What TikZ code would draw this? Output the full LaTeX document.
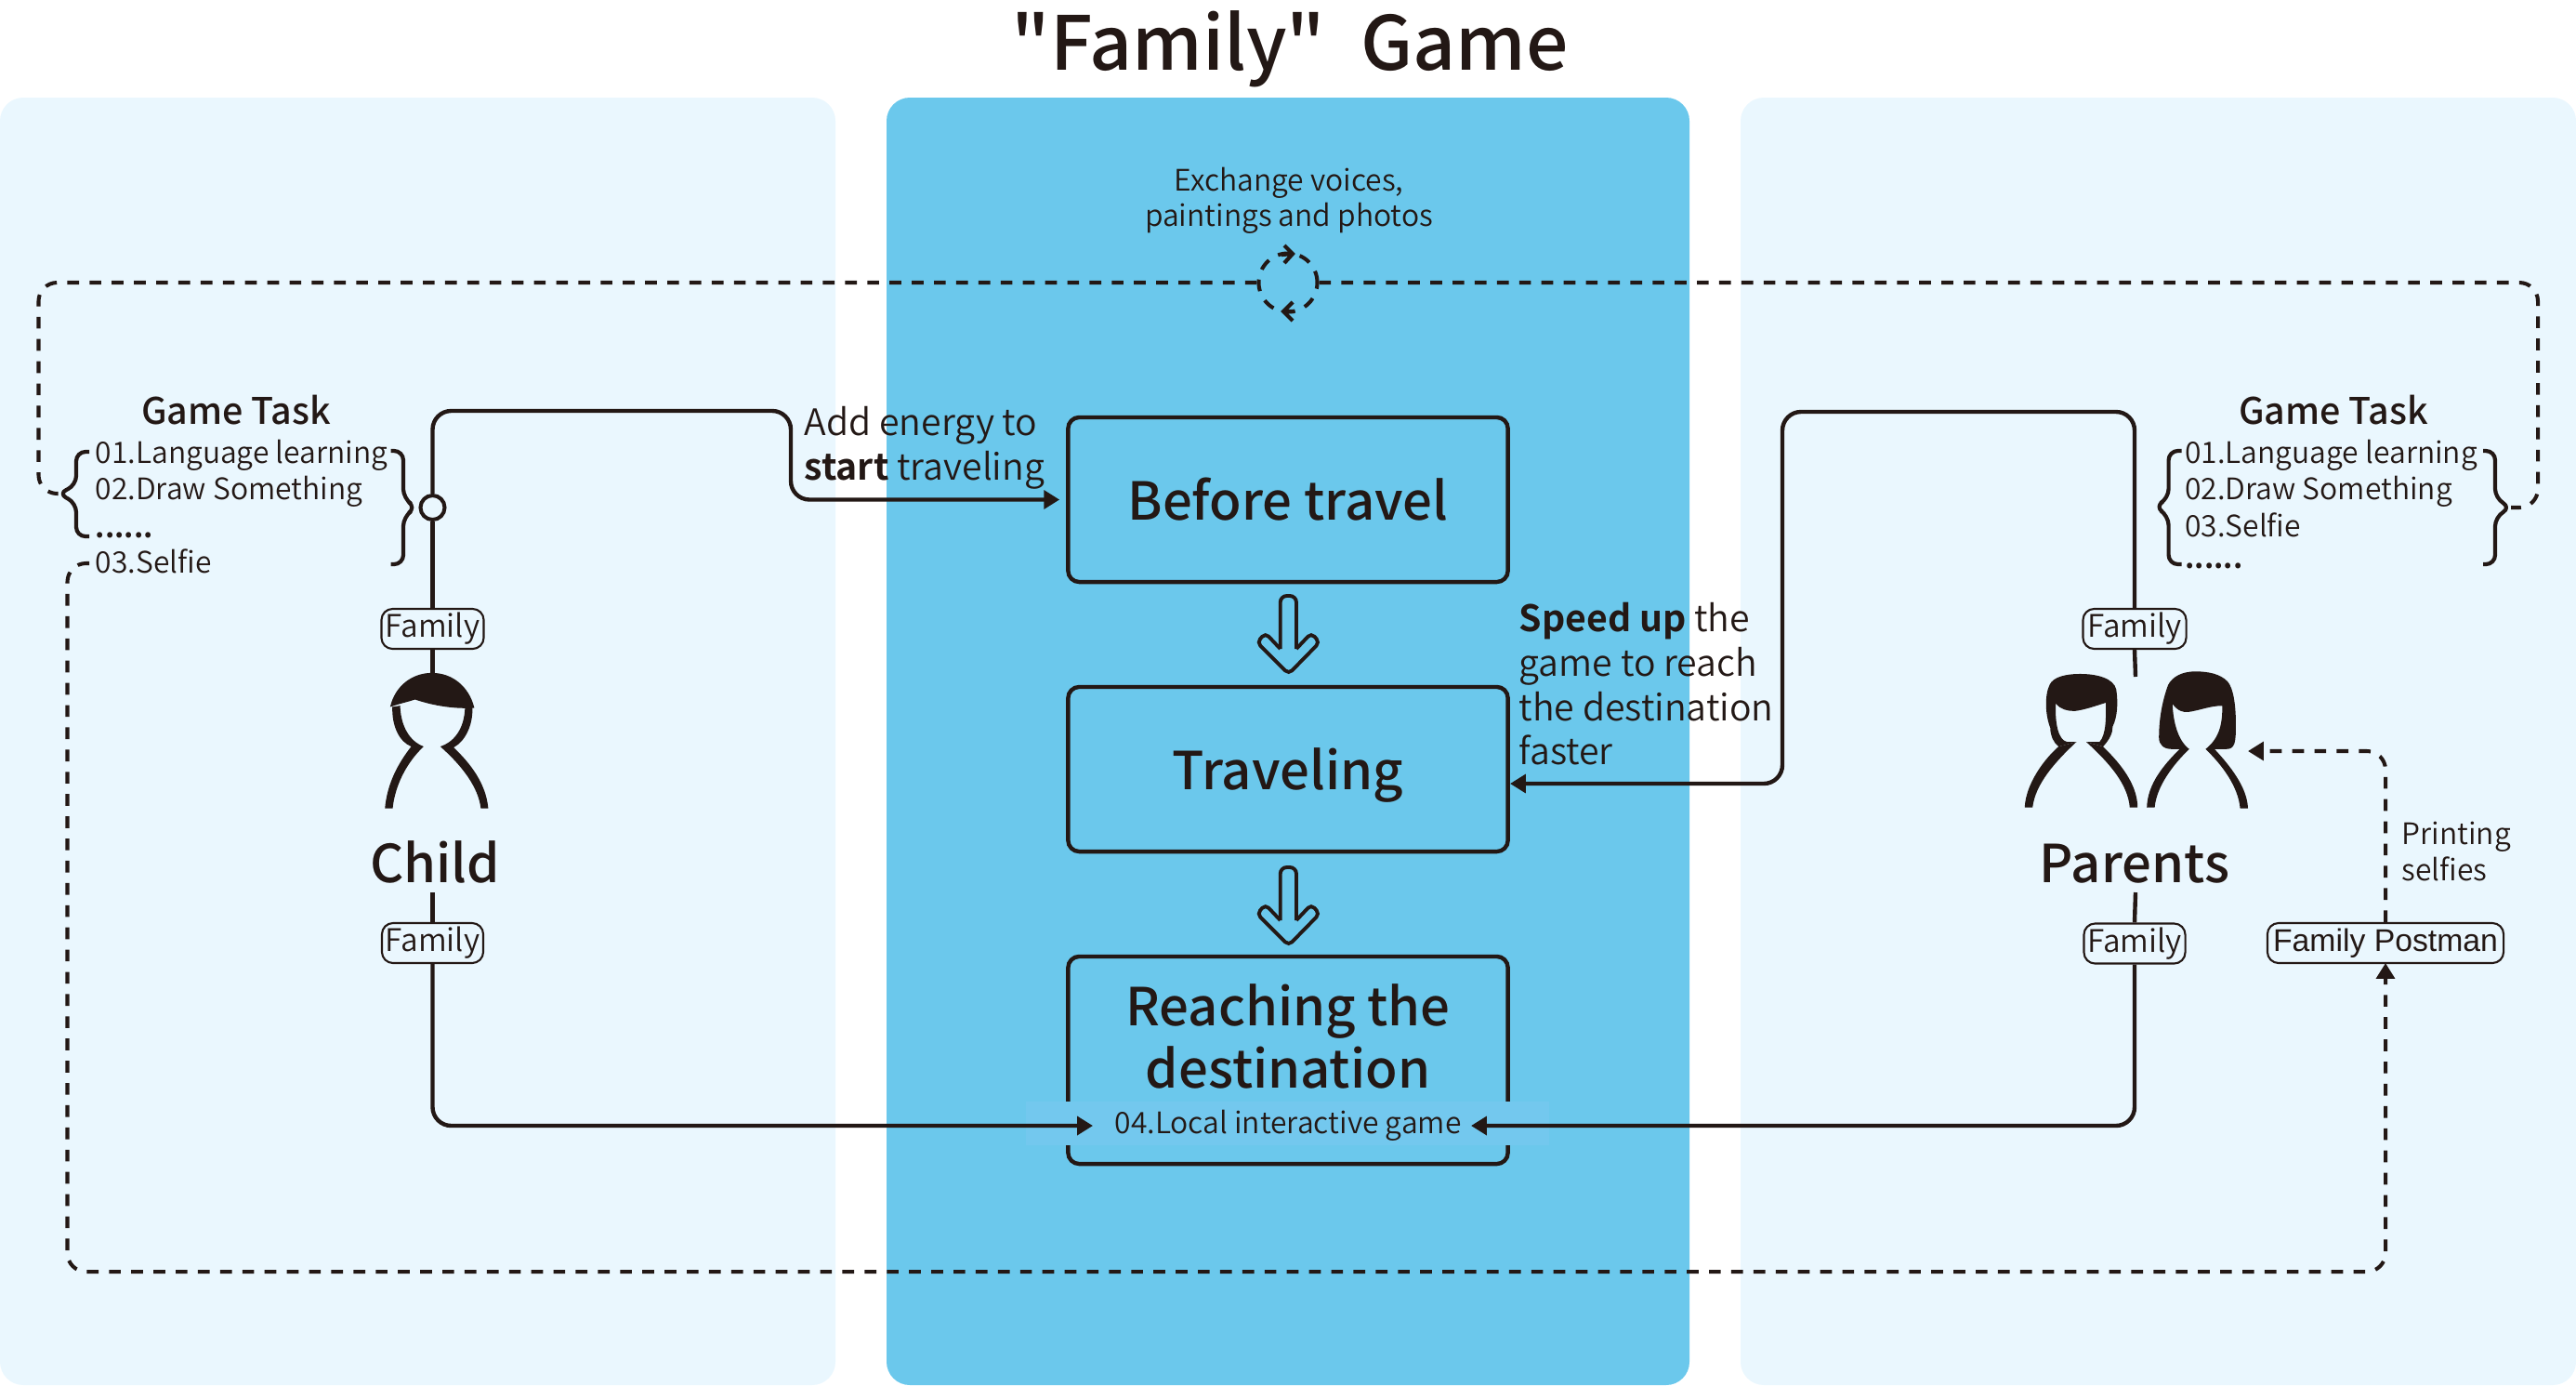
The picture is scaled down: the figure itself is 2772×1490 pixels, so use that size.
\documentclass[tikz,border=0pt]{standalone}
\usepackage{fontspec}
\setmainfont{Noto Sans CJK SC DemiLight}[BoldFont={Noto Sans CJK SC Bold}]
\newfontfamily\medfont{Noto Sans CJK SC Medium}
\newfontfamily\arialfont{Liberation Sans}
\usetikzlibrary{arrows.meta}
\definecolor{ink}{HTML}{231815}
\definecolor{pale}{HTML}{EAF7FE}
\definecolor{sky}{HTML}{6BC8EC}
\definecolor{bandc}{HTML}{73C8EE}
\tikzset{
  conn/.style={draw=ink,line width=1.25pt},
  dashc/.style={draw=ink,line width=1.15pt,dash pattern=on 3.6pt off 3.2pt},
  crn/.style={rounded corners=.2cm},
  tipA/.tip={Triangle[length=4.8pt,width=5.6pt]},
  flowbox/.style={draw=ink,line width=1.25pt,rounded corners=.12cm,minimum width=4.73cm,inner sep=0pt},
  tagbox/.style={draw=ink,line width=.6pt,fill=pale,rounded corners=.12cm,minimum height=.43cm,inner sep=0pt,text=ink,font=\fontsize{9.5}{11}\selectfont},
  txt/.style={text=ink,inner sep=0pt,anchor=base west,font=\fontsize{9.05}{11}\selectfont},
  ctxt/.style={txt,anchor=base},
  bigt/.style={text=ink,inner sep=0pt,anchor=base,font=\fontsize{16}{20}\medfont},
  headt/.style={text=ink,inner sep=0pt,anchor=base,font=\fontsize{11.2}{13}\medfont},
  sayt/.style={txt,font=\fontsize{11.15}{14}\selectfont},
  rolet/.style={text=ink,inner sep=0pt,anchor=base,font=\fontsize{16}{20}\medfont},
  brc/.style={draw=ink,line width=1.2pt,line join=round},
}
\newcommand{\hollowarrow}[1]{%
  \begin{scope}[shift={(0,#1)}]
  \draw[draw=ink,line width=1.1pt,rounded corners=.07cm] (1377.7,698) -- (1377.7,641) -- (1395,641) -- (1395,698);
  \draw[draw=ink,line width=1.1pt,rounded corners=.05cm] (1395,698) -- (1411,681) -- (1420,691) -- (1386.7,725) -- (1352.7,691) -- (1361.7,681) -- (1377.7,698);
  \end{scope}}
\begin{document}
\begin{tikzpicture}[x=.01cm,y=-.01cm]
\useasboundingbox (0,0) rectangle (2772,1490);
% panels
\fill[pale,rounded corners=.25cm] (0,105) rectangle (899,1490);
\fill[sky,rounded corners=.25cm] (954,105) rectangle (1818,1490);
\fill[pale,rounded corners=.25cm] (1873,105) rectangle (2772,1490);
% title
\node[text=ink,inner sep=0pt,anchor=base,font=\fontsize{22.8}{26}\medfont] (title) at (1388,75) {"Family"\hspace{.25em} Game};
% flow boxes
\node[flowbox,minimum height=1.77cm] (before) at (1386,537.5) {};
\node[flowbox,minimum height=1.77cm] (travel) at (1386,827.5) {};
\node[flowbox,minimum height=2.23cm] (reach) at (1386,1140.5) {};
\node[bigt] (l1) at (1386,559) {Before travel};
\node[bigt] (l2) at (1386,849) {Traveling};
\node[bigt] (l3) at (1386,1103) {Reaching the};
\node[bigt] (l4) at (1386,1170) {destination};
\hollowarrow{0}
\hollowarrow{292}
% band over the third box
\node[fill=bandc,minimum width=5.63cm,minimum height=.47cm,inner sep=0pt] (band) at (1385.5,1208.5) {};
\node[ctxt] (local) at (1386,1219.5) {04.Local interactive game};
% exchange
\node[ctxt] (ex1) at (1387,205.5) {Exchange voices,};
\node[ctxt] (ex2) at (1387,243.5) {paintings and photos};
\node[dashc,circle,minimum size=.63cm,inner sep=0pt] (loop) at (1386,304) {};
\draw[draw=ink,line width=1.2pt] (1382,264) -- (1391,273) -- (1382,283) (1379,274) -- (1391,273);
\draw[draw=ink,line width=1.2pt] (1391,325) -- (1381,335) -- (1391,345) (1381,335) -- (1393,335);
% left game task
\node[headt] (gt1) at (254,456) {Game Task};
\node[txt] (a1) at (102,498.5) {01.Language learning};
\node[txt] (a2) at (102,537.5) {02.Draw Something};
\node[txt,font=\fontsize{9.05}{11}\bfseries] (a3) at (102,578) {......};
\node[txt] (a4) at (102,616.5) {03.Selfie};
\draw[brc,rounded corners=.1cm] (96,486) -- (82,486) -- (82,522) -- (62.5,531) -- (82,541) -- (82,577) -- (96,577);
\draw[brc,rounded corners=.1cm] (420.5,485) -- (434,485) -- (434,536) -- (448,546) -- (434,556) -- (434,607) -- (420.5,607);
% right game task
\node[headt] (gt2) at (2511,456) {Game Task};
\node[txt] (b1) at (2350.6,498.5) {01.Language learning};
\node[txt] (b2) at (2350.6,537.5) {02.Draw Something};
\node[txt] (b3) at (2350.6,577.5) {03.Selfie};
\node[txt,font=\fontsize{9.05}{11}\bfseries] (b4) at (2350.6,611) {......};
\draw[brc,rounded corners=.1cm] (2347.7,485) -- (2333.6,485) -- (2333.6,536) -- (2318.6,545) -- (2333.6,555) -- (2333.6,607) -- (2347.7,607);
\draw[brc,rounded corners=.1cm] (2672,485) -- (2685,485) -- (2685,536) -- (2702,546) -- (2685,556) -- (2685,607) -- (2672,607);
% tags
\node[tagbox,minimum width=1.1cm] (fa) at (465.5,676.5) {Family};
\node[tagbox,minimum width=1.09cm] (fb) at (465.5,1014.5) {Family};
\node[tagbox,minimum width=1.11cm] (fc) at (2297,676.5) {Family};
\node[tagbox,minimum width=1.09cm] (fd) at (2297,1015) {Family};
\node[tagbox,minimum width=2.54cm,font=\fontsize{9.6}{11}\arialfont] (post) at (2567,1014.5) {Family Postman};
\node[draw=ink,line width=1.15pt,fill=pale,circle,minimum size=.26cm,inner sep=0pt] (ring) at (465.5,546) {};
% labels
\node[rolet] (child) at (468,949) {Child};
\node[rolet] (parents) at (2297,949) {Parents};
\node[sayt] (s1) at (865,468.5) {Add energy to};
\node[sayt] (s2) at (865,516.5) {\textbf{start} traveling};
\node[sayt] (u1) at (1634,679) {\textbf{Speed up} the};
\node[sayt] (u2) at (1634,727) {game to reach};
\node[sayt] (u3) at (1634,775) {the destination};
\node[sayt] (u4) at (1634,822) {faster};
\node[txt] (p1) at (2584,908.5) {Printing};
\node[txt] (p2) at (2584,947.5) {selfies};
% named free ends
\coordinate (childtop) at (465.5,724);
\coordinate (parenttop) at (2298,728);
\coordinate (childfoot) at (465.5,960);
\coordinate (parentfoot) at (2298,960);
\coordinate (k1) at (851,442);
\coordinate (k2) at (1918,443);
\coordinate (t2) at (1625,843);
\coordinate (al) at (1176,1211);
\coordinate (ar) at (1583,1211);
\coordinate (d1) at (41.5,304);
\coordinate (d2) at (62.5,531);
\coordinate (d3) at (2731,304);
\coordinate (d4) at (2702,546);
\coordinate (e1) at (96,606);
\coordinate (e2) at (72.5,1368);
\coordinate (e3) at (2567,1036);
\coordinate (f1) at (2419,808);
% solid connectors
\draw[conn] (childtop) -- (fa.south);
\draw[conn] (fa.north) -- (ring.south);
\draw[conn,-tipA,crn,shorten >=.07cm] (ring.north) |- (k1) |- (before.west);
\draw[conn] (parenttop) -- (fc.south);
\draw[conn,crn,-tipA] (fc.north) |- (k2) |- (t2);
\draw[conn] (childfoot) -- (fb.north);
\draw[conn,-tipA,crn] (fb.south) |- (al);
\draw[conn] (parentfoot) -- (fd.north);
\draw[conn,-tipA,crn] (fd.south) |- (ar);
% dashed connectors
\draw[dashc,crn] (loop.west) -- (d1) |- (d2);
\draw[dashc,crn] (loop.east) -- (d3) |- (d4);
\draw[dashc,crn,-tipA] (e1) -| (e2) -| (e3);
\draw[dashc,crn,-tipA] (post.north) |- (f1);
% child figure
\begin{scope}[shift={(350,640)},x=.0033333cm,y=-.0033333cm]
\fill[ink] (210,362) .. controls (225,295) and (280,252) .. (345,252) .. controls (410,252) and (465,295) .. (482,365) .. controls (440,368) and (370,365) .. (290,338) .. controls (270,345) and (245,350) .. (210,362) -- cycle;
\fill[ink] (217,362) .. controls (215,425) and (240,475) .. (278,490) .. controls (235,545) and (200,610) .. (193,690) -- (218,690) .. controls (225,620) and (260,545) .. (318,490) .. controls (285,478) and (245,440) .. (242,358) -- cycle;
\fill[ink] (476,362) .. controls (478,425) and (450,475) .. (415,493) .. controls (470,545) and (520,610) .. (527,690) -- (503,690) .. controls (495,620) and (440,550) .. (372,490) .. controls (410,478) and (450,440) .. (452,362) -- cycle;
\end{scope}
% parents figures
\begin{scope}[shift={(2150,700)},x=.003827cm,y=-.0033333cm]
\fill[ink] (220,295) -- (195,295) .. controls (170,290) and (160,240) .. (162,170) .. controls (175,190) and (195,195) .. (215,195) .. controls (240,192) and (270,180) .. (303,168) .. controls (303,210) and (305,270) .. (285,295) -- (248,295) -- (295,310) .. controls (315,285) and (322,265) .. (322,245) .. controls (335,215) and (338,170) .. (332,125) .. controls (325,90) and (280,75) .. (230,75) .. controls (190,75) and (155,85) .. (145,110) .. controls (130,145) and (133,210) .. (147,250) .. controls (147,275) and (155,295) .. (170,310) -- cycle;
\fill[ink] (170,310) .. controls (130,350) and (78,430) .. (75,507) -- (97,507) .. controls (105,430) and (160,360) .. (220,295) -- cycle;
\fill[ink] (295,310) .. controls (340,360) and (392,430) .. (392,507) -- (370,507) .. controls (365,430) and (310,360) .. (248,295) -- cycle;
\fill[ink] (537,318) .. controls (505,290) and (492,230) .. (490,172) .. controls (505,195) and (520,200) .. (535,198) .. controls (570,192) and (595,178) .. (630,178) .. controls (630,230) and (625,280) .. (583,318) -- (605,318) -- (640,318) .. controls (665,318) and (668,300) .. (668,240) .. controls (668,170) and (660,120) .. (645,100) .. controls (625,75) and (590,67) .. (555,67) .. controls (515,67) and (490,85) .. (478,110) .. controls (465,150) and (452,210) .. (452,280) .. controls (452,305) and (465,318) .. (490,318) -- cycle;
\fill[ink] (510,318) .. controls (465,370) and (420,430) .. (418,507) -- (440,507) .. controls (445,440) and (490,370) .. (537,318) -- cycle;
\fill[ink] (608,318) .. controls (650,370) and (700,440) .. (702,510) -- (680,510) .. controls (675,440) and (630,370) .. (583,318) -- cycle;
\end{scope}
\end{tikzpicture}
\end{document}
